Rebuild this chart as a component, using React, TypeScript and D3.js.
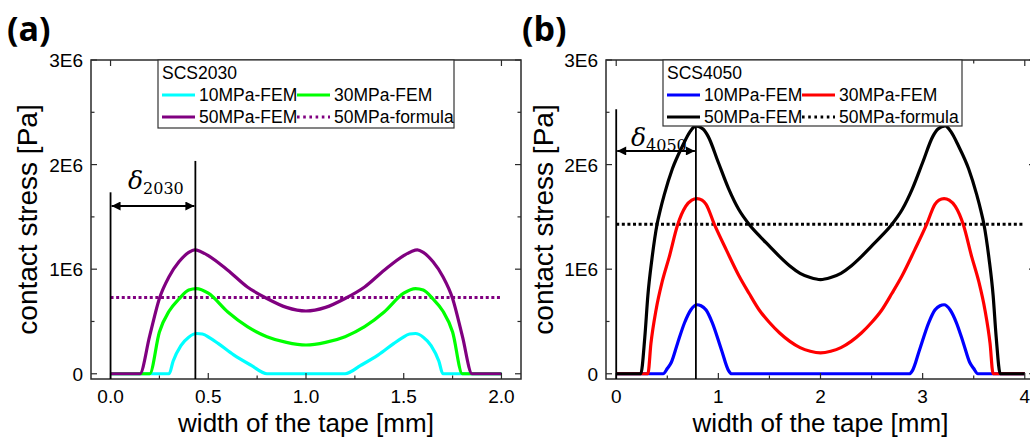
import React from "react";
import * as d3 from "d3";

const SANS = '"Liberation Sans", Arial, Helvetica, sans-serif';
const SERIF = '"DejaVu Serif", "Liberation Serif", serif';

// Contact stress along the tape width, stress values in units of 1E6 Pa.

// ---- SCS2030 ----
const a10X = [0, 0.3, 0.32, 0.36, 0.4, 0.44, 0.47, 0.51, 0.55, 0.63, 0.72, 0.8, 1.2, 1.28, 1.37, 1.45, 1.49, 1.53, 1.56, 1.6, 1.64, 1.68, 1.7, 2.0];
const a10Y = [0, 0, 0.12, 0.27, 0.35, 0.385, 0.38, 0.34, 0.29, 0.18, 0.08, 0, 0, 0.08, 0.18, 0.29, 0.34, 0.38, 0.385, 0.35, 0.27, 0.12, 0, 0];

const a30X = [0, 0.2, 0.25, 0.3, 0.35, 0.4, 0.44, 0.5, 0.6, 0.7, 0.8, 0.9, 1.0, 1.1, 1.2, 1.3, 1.4, 1.5, 1.56, 1.6, 1.65, 1.7, 1.75, 1.8, 2.0];
const a30Y = [0, 0, 0.4, 0.6, 0.715, 0.8, 0.815, 0.77, 0.59, 0.45, 0.355, 0.3, 0.275, 0.3, 0.355, 0.45, 0.59, 0.77, 0.815, 0.8, 0.715, 0.6, 0.4, 0, 0];

const a50X = [0, 0.15, 0.2, 0.25, 0.3, 0.35, 0.4, 0.43, 0.46, 0.5, 0.6, 0.7, 0.8, 0.9, 1.0, 1.1, 1.2, 1.3, 1.4, 1.5, 1.54, 1.57, 1.6, 1.65, 1.7, 1.75, 1.8, 1.85, 2.0];
const a50Y = [0, 0, 0.36, 0.72, 0.93, 1.07, 1.16, 1.185, 1.17, 1.13, 0.99, 0.83, 0.72, 0.635, 0.6, 0.635, 0.72, 0.83, 0.99, 1.13, 1.17, 1.185, 1.16, 1.07, 0.93, 0.72, 0.36, 0, 0];

const aFormulaX = [0, 2.0];
const aFormulaY = [0.73, 0.73];

// ---- SCS4050 ----
const b10X = [0, 0.46, 0.5, 0.54, 0.6, 0.67, 0.73, 0.79, 0.83, 0.88, 0.94, 1.03, 1.1, 1.13, 2.87, 2.9, 2.97, 3.06, 3.12, 3.17, 3.21, 3.27, 3.33, 3.4, 3.46, 3.5, 3.54, 4.0];
const b10Y = [0, 0, 0.05, 0.11, 0.29, 0.49, 0.61, 0.66, 0.65, 0.61, 0.49, 0.23, 0.03, 0, 0, 0.03, 0.23, 0.49, 0.61, 0.65, 0.66, 0.61, 0.49, 0.29, 0.11, 0.05, 0, 0];

const b30X = [0, 0.31, 0.34, 0.39, 0.45, 0.52, 0.6, 0.68, 0.74, 0.79, 0.84, 0.88, 0.96, 1.08, 1.2, 1.3, 1.4, 1.5, 1.6, 1.7, 1.8, 1.9, 2.0, 2.1, 2.2, 2.3, 2.4, 2.5, 2.6, 2.7, 2.8, 2.92, 3.04, 3.12, 3.16, 3.21, 3.26, 3.32, 3.4, 3.48, 3.55, 3.61, 3.66, 3.69, 4.0];
const b30Y = [0, 0, 0.29, 0.61, 0.88, 1.12, 1.42, 1.6, 1.66, 1.675, 1.66, 1.62, 1.43, 1.18, 0.94, 0.77, 0.61, 0.49, 0.39, 0.31, 0.25, 0.215, 0.2, 0.215, 0.25, 0.31, 0.39, 0.49, 0.61, 0.77, 0.94, 1.18, 1.43, 1.62, 1.66, 1.675, 1.66, 1.6, 1.42, 1.12, 0.88, 0.61, 0.29, 0, 0];

const b50X = [0, 0.24, 0.28, 0.31, 0.35, 0.4, 0.43, 0.47, 0.55, 0.65, 0.72, 0.78, 0.85, 0.9, 1.0, 1.1, 1.2, 1.3, 1.4, 1.5, 1.6, 1.7, 1.8, 1.9, 2.0, 2.1, 2.2, 2.3, 2.4, 2.5, 2.6, 2.7, 2.8, 2.9, 3.0, 3.1, 3.15, 3.22, 3.28, 3.35, 3.45, 3.53, 3.57, 3.6, 3.65, 3.69, 3.72, 3.76, 4.0];
const b50Y = [0, 0, 0.35, 0.75, 1.1, 1.43, 1.56, 1.71, 1.96, 2.18, 2.31, 2.37, 2.34, 2.27, 2.02, 1.77, 1.57, 1.43, 1.32, 1.22, 1.12, 1.03, 0.96, 0.92, 0.9, 0.92, 0.96, 1.03, 1.12, 1.22, 1.32, 1.43, 1.57, 1.77, 2.02, 2.27, 2.34, 2.37, 2.31, 2.18, 1.96, 1.71, 1.56, 1.43, 1.1, 0.75, 0.35, 0, 0];

const bFormulaX = [0, 4.0];
const bFormulaY = [1.43, 1.43];

// Axis ticks
const aXMajor = [0, 0.5, 1.0, 1.5, 2.0];
const aXMinor = [0.25, 0.75, 1.25, 1.75];
const bXMajor = [0, 1, 2, 3, 4];
const bXMinor = [0.5, 1.5, 2.5, 3.5];
const yMajor = [0, 1, 2, 3];
const yMinor = [0.5, 1.5, 2.5];
const yTickLabels = ["0", "1E6", "2E6", "3E6"];

// Peak-position markers: x of the peak line, heights of the two guide lines and the arrow
const aDelta = { x: 0.434, leftTop: 1.735, peakTop: 2.035, arrow: 1.604 };
const bDelta = { x: 0.78, leftTop: 2.53, peakTop: 2.39, arrow: 2.13 };

type Series = { name: string; xs: number[]; ys: number[]; color: string; dotted?: boolean };

type PanelCfg = {
  tag: string;
  left: number;
  right: number;
  xDomain: [number, number];
  xMajor: number[];
  xMinor: number[];
  xFmt: (v: number) => string;
  legendTitle: string;
  legendBox: [number, number, number, number];
  series: Series[];
  delta: { x: number; leftTop: number; peakTop: number; arrow: number };
  deltaSub: string;
  deltaLabelX: number;
  deltaLabelY: number;
  titleX: number;
};

const TOP = 60;
const BOTTOM = 379;

function Panel({ cfg }: { cfg: PanelCfg }) {
  const x = d3.scaleLinear().domain(cfg.xDomain).range([cfg.left, cfg.right]);
  const y = d3.scaleLinear().domain([-0.05, 3]).range([BOTTOM, TOP]);
  const line = d3
    .line<[number, number]>()
    .x((d) => x(d[0]))
    .y((d) => y(d[1]))
    .curve(d3.curveMonotoneX);
  const flat = d3
    .line<[number, number]>()
    .x((d) => x(d[0]))
    .y((d) => y(d[1]));

  const axisColor = "#2a2a2a";
  const maj = 6;
  const min = 3.5;
  const [lx, ly, lw, lh] = cfg.legendBox;
  const col2 = lx + 139;
  const arrowId = "arr-" + cfg.tag;

  const dotted = cfg.series.filter((s) => s.dotted);
  const solid = cfg.series.filter((s) => !s.dotted);

  return (
    <g>
      <defs>
        <marker id={arrowId} viewBox="0 0 10 10" refX="10" refY="5" markerWidth="11" markerHeight="9" markerUnits="userSpaceOnUse" orient="auto-start-reverse">
          <path d="M0,0 L10,5 L0,10 Z" fill="#000" />
        </marker>
      </defs>

      {/* panel tag */}
      <text x={cfg.left - 84} y={41} fontFamily='"Open Sans", sans-serif' fontWeight={700} fontSize={34}>
        {"(" + cfg.tag + ")"}
      </text>

      {/* formula reference line */}
      {dotted.map((s) => (
        <path key={s.name} d={flat(s.xs.map((v, i) => [v, s.ys[i]]) as [number, number][]) || ""} fill="none" stroke={s.color} strokeWidth={3} strokeDasharray="3 2.6" />
      ))}

      {/* FEM curves */}
      {solid.map((s) => (
        <path key={s.name} d={line(s.xs.map((v, i) => [v, s.ys[i]]) as [number, number][]) || ""} fill="none" stroke={s.color} strokeWidth={3.2} strokeLinejoin="round" />
      ))}

      {/* frame */}
      <rect x={cfg.left} y={TOP} width={cfg.right - cfg.left} height={BOTTOM - TOP} fill="none" stroke={axisColor} strokeWidth={1.5} />

      {/* x ticks, inward on bottom and top */}
      {cfg.xMajor.map((v) => (
        <g key={"xm" + v}>
          <line x1={x(v)} x2={x(v)} y1={BOTTOM} y2={BOTTOM - maj} stroke={axisColor} strokeWidth={1.2} />
          <line x1={x(v)} x2={x(v)} y1={TOP} y2={TOP + maj} stroke={axisColor} strokeWidth={1.2} />
          <text x={x(v)} y={403} textAnchor="middle" fontFamily={SANS} fontSize={19}>
            {cfg.xFmt(v)}
          </text>
        </g>
      ))}
      {cfg.xMinor.map((v) => (
        <g key={"xn" + v}>
          <line x1={x(v)} x2={x(v)} y1={BOTTOM} y2={BOTTOM - min} stroke={axisColor} strokeWidth={1.2} />
          <line x1={x(v)} x2={x(v)} y1={TOP} y2={TOP + min} stroke={axisColor} strokeWidth={1.2} />
        </g>
      ))}

      {/* y ticks, inward on left and right */}
      {yMajor.map((v, i) => (
        <g key={"ym" + v}>
          <line x1={cfg.left} x2={cfg.left + maj} y1={y(v)} y2={y(v)} stroke={axisColor} strokeWidth={1.2} />
          <line x1={cfg.right} x2={cfg.right - maj} y1={y(v)} y2={y(v)} stroke={axisColor} strokeWidth={1.2} />
          <text x={cfg.left - 8} y={y(v) + 7} textAnchor="end" fontFamily={SANS} fontSize={19}>
            {yTickLabels[i]}
          </text>
        </g>
      ))}
      {yMinor.map((v) => (
        <g key={"yn" + v}>
          <line x1={cfg.left} x2={cfg.left + min} y1={y(v)} y2={y(v)} stroke={axisColor} strokeWidth={1.2} />
          <line x1={cfg.right} x2={cfg.right - min} y1={y(v)} y2={y(v)} stroke={axisColor} strokeWidth={1.2} />
        </g>
      ))}

      {/* axis titles */}
      <text x={(cfg.left + cfg.right) / 2} y={432} textAnchor="middle" fontFamily={SANS} fontSize={26}>
        width of the tape [mm]
      </text>
      <text transform={`translate(${cfg.titleX},${(TOP + BOTTOM) / 2}) rotate(-90)`} textAnchor="middle" fontFamily={SANS} fontSize={28}>
        contact stress [Pa]
      </text>

      {/* peak position guide */}
      <line x1={x(0)} x2={x(0)} y1={y(cfg.delta.leftTop)} y2={BOTTOM} stroke="#000" strokeWidth={1.8} />
      <line x1={x(cfg.delta.x)} x2={x(cfg.delta.x)} y1={y(cfg.delta.peakTop)} y2={BOTTOM} stroke="#000" strokeWidth={1.8} />
      <line x1={x(0) + 1} x2={x(cfg.delta.x) - 1} y1={y(cfg.delta.arrow)} y2={y(cfg.delta.arrow)} stroke="#000" strokeWidth={2.2} markerStart={`url(#${arrowId})`} markerEnd={`url(#${arrowId})`} />
      <text x={cfg.deltaLabelX} y={cfg.deltaLabelY} fontFamily={SERIF} fill="#000">
        <tspan fontStyle="italic" fontSize={25}>δ</tspan>
        <tspan fontSize={16} dy={5}>{cfg.deltaSub}</tspan>
      </text>

      {/* legend */}
      <rect x={lx} y={ly} width={lw} height={lh} fill="#fff" stroke="#333" strokeWidth={1.2} />
      <text x={lx + 4} y={ly + 19} fontFamily={SANS} fontSize={17.5}>
        {cfg.legendTitle}
      </text>
      {cfg.series.map((s, i) => {
        const cx = i % 2 === 0 ? lx + 4 : col2;
        const cy = ly + 35 + Math.floor(i / 2) * 22;
        return (
          <g key={"lg" + s.name}>
            <line x1={cx} x2={cx + 33} y1={cy} y2={cy} stroke={s.color} strokeWidth={s.dotted ? 3 : 3.2} strokeDasharray={s.dotted ? "2.6 3.6" : undefined} />
            <text x={cx + 37} y={cy + 6} fontFamily={SANS} fontSize={17.5}>
              {s.name}
            </text>
          </g>
        );
      })}
    </g>
  );
}

const panelA: PanelCfg = {
  tag: "a",
  left: 91,
  right: 521,
  xDomain: [-0.1, 2.1],
  xMajor: aXMajor,
  xMinor: aXMinor,
  xFmt: d3.format(".1f"),
  legendTitle: "SCS2030",
  legendBox: [158, 60, 296, 68],
  series: [
    { name: "10MPa-FEM", xs: a10X, ys: a10Y, color: "#00ffff" },
    { name: "30MPa-FEM", xs: a30X, ys: a30Y, color: "#00ff00" },
    { name: "50MPa-FEM", xs: a50X, ys: a50Y, color: "#800080" },
    { name: "50MPa-formula", xs: aFormulaX, ys: aFormulaY, color: "#800080", dotted: true },
  ],
  delta: aDelta,
  deltaSub: "2030",
  deltaLabelX: 128,
  deltaLabelY: 189,
  titleX: 37,
};

const panelB: PanelCfg = {
  tag: "b",
  left: 606,
  right: 1035,
  xDomain: [-0.1, 4.1],
  xMajor: bXMajor,
  xMinor: bXMinor,
  xFmt: d3.format("d"),
  legendTitle: "SCS4050",
  legendBox: [663, 60, 299, 66],
  series: [
    { name: "10MPa-FEM", xs: b10X, ys: b10Y, color: "#0000ff" },
    { name: "30MPa-FEM", xs: b30X, ys: b30Y, color: "#ff0000" },
    { name: "50MPa-FEM", xs: b50X, ys: b50Y, color: "#000000" },
    { name: "50MPa-formula", xs: bFormulaX, ys: bFormulaY, color: "#000000", dotted: true },
  ],
  delta: bDelta,
  deltaSub: "4050",
  deltaLabelX: 631,
  deltaLabelY: 146,
  titleX: 553,
};

export default function App() {
  return (
    <svg width={1030} height={439} viewBox="0 0 1030 439" style={{ position: "absolute", left: 0, top: 0, background: "#fff" }}>
      <rect width={1030} height={439} fill="#fff" />
      <Panel cfg={panelA} />
      <Panel cfg={panelB} />
    </svg>
  );
}
